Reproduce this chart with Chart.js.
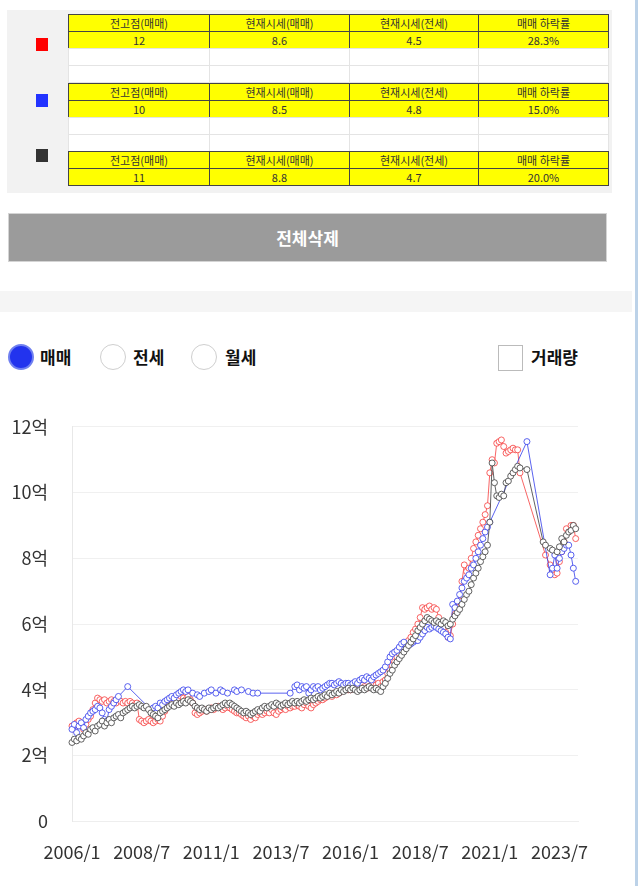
<!DOCTYPE html>
<html>
<head>
<meta charset="utf-8">
<script src="https://cdn.jsdelivr.net/npm/chart.js"></script>
<style>
  body { margin: 0; background: #fff; font-family: "Noto Sans CJK KR", sans-serif; width: 640px; height: 886px; overflow: hidden; position: relative; }
  .abs { position: absolute; }
  .panel { left: 7px; top: 10px; width: 605px; height: 183px; background: #f2f2f2; }
  .sq { width: 12px; height: 13px; left: 36px; }
  table { border-collapse: collapse; table-layout: fixed; position: absolute; left: 68px; width: 540px; }
  td { height: 16px; padding: 0; font-size: 11px; line-height: 14px; text-align: center; color: #333; }
  .yel td { background: #ffff00; border: 1px solid #444; }
  .wht td { background: #fff; border: 1px solid #e4e4e4; height: 16px; }
  .btn { left: 8px; top: 213px; width: 597px; height: 47px; background: #9b9b9b; border: 1px solid #d4d4d4; color: #fff; font-weight: bold; font-size: 17px; line-height: 47px; text-align: center; }
  .band { left: 0; top: 291px; width: 632px; height: 21px; background: #f5f5f5; }
  .radio { top: 344px; width: 24px; height: 24px; border-radius: 50%; border: 1px solid #cfcfcf; background: #fff; }
  .lbl { top: 343px; font-size: 17px; font-weight: bold; color: #111; line-height: 28px; }
  .edge { left: 635px; top: 0; width: 3px; height: 886px; background: #bcd2e8; }
  #wrap { left: 0; top: 392px; width: 600px; height: 491px; }
</style>
</head>
<body>
<div class="abs panel"></div>
<div class="abs sq" style="top:38px;background:#f00"></div>
<div class="abs sq" style="top:94px;background:#2233ff"></div>
<div class="abs sq" style="top:149px;background:#333"></div>
<div id="tables"></div>
<div class="abs btn">전체삭제</div>
<div class="abs band"></div>
<div class="abs radio" style="left:8px;background:#2233ee;border:2px solid #7080f0;width:22px;height:22px"></div>
<div class="abs lbl" style="left:40px">매매</div>
<div class="abs radio" style="left:100px"></div>
<div class="abs lbl" style="left:133px">전세</div>
<div class="abs radio" style="left:191px"></div>
<div class="abs lbl" style="left:225px">월세</div>
<div class="abs" style="left:498px;top:345px;width:23px;height:24px;border:1px solid #bbb;background:#fff"></div>
<div class="abs lbl" style="left:531px">거래량</div>
<div class="abs edge"></div>
<div class="abs" id="wrap"><canvas id="chart"></canvas></div>
<script>
const headers = ["전고점(매매)", "현재시세(매매)", "현재시세(전세)", "매매 하락률"];
const summaryRows = [
  ["12", "8.6", "4.5", "28.3%"],
  ["10", "8.5", "4.8", "15.0%"],
  ["11", "8.8", "4.7", "20.0%"]
];
const summaryTops = [14, 83, 151];
const colWidths = [141, 140, 129, 130];

// months from 2006/1 to 2024/3
const labels = [];
for (let y = 2006; y <= 2024; y++) {
  for (let m = 1; m <= 12; m++) {
    if (y === 2024 && m > 3) break;
    labels.push(y + "/" + m);
  }
}

const redData = [
  2.9, 2.8, 3.0, 3.05, 2.9, 2.8, 2.95, 3.1, 3.2, 3.4, 3.6, 3.75,
  3.7, 3.65, 3.7, 3.6, 3.65, 3.7, 3.65, 3.6, 3.7, 3.65, 3.6, 3.65,
  3.6, 3.65, 3.6, 3.55, 3.6, 3.1, 3.05, 3.0, 3.05, 3.1, 3.05, 3.0,
  3.05, 3.1, 3.05, 3.2, 3.35, 3.5, 3.55, 3.6, 3.65, 3.7, 3.75, 3.8,
  3.75, 3.7, 3.8, 3.7, 3.6, 3.3, 3.25, 3.3, 3.35, 3.4, 3.35, 3.4,
  3.45, 3.4, 3.45, 3.5, 3.45, 3.4, 3.45, 3.5, 3.45, 3.4, 3.35, 3.3,
  3.3, 3.25, 3.2, 3.15, 3.2, 3.1, 3.2, 3.15, 3.25, 3.3, 3.25, 3.3,
  3.35, 3.3, 3.4, 3.3, 3.25, 3.35, 3.4, 3.45, 3.4, 3.5, 3.45, 3.5,
  3.5, 3.55, 3.5, 3.45, 3.55, 3.6, 3.5, 3.45, 3.55, 3.6, 3.65, 3.7,
  3.7, 3.75, 3.8, 3.85, 3.8, 3.9, 3.85, 3.9, 3.95, 4.0, 4.05, 4.0,
  4.0, 4.05, 4.1, 4.05, 4.1, 4.15, 4.1, 4.05, 4.1, 4.15, 4.2, 4.15,
  4.2, 4.1, 4.25, 4.3, 4.5, 4.6, 4.75, 4.85, 5.0, 5.1, 5.2, 5.3,
  5.35, 5.5, 5.6, 5.75, 5.85, 6.0, 6.2, 6.5, 6.45, 6.5, 6.55, 6.45,
  6.5, 6.45, 6.2, 6.0, 5.9, 5.75, 5.6, 5.65, 6.0, 6.3, 6.5, 6.7,
  7.3, 7.8, 7.6, 7.7, 8.0, 8.3, 8.5, 8.7, 8.9, 9.1, 9.33, 9.6,
  10.6, 11.0, 10.9, 11.5, 11.55, 11.6, 11.4, 11.2, 11.25, 11.3, 11.35, 11.3,
  11.3, 10.6, null, null, null, null, null, null, null, null, null, null,
  8.1, null, 7.8, 7.6, 7.5, 7.55, 7.9, 8.2, 8.5, 8.9, 8.8, 9.0,
  9.0, 8.6, null
];

const blueData = [
  2.8, 2.95, 2.7, 2.9, 3.0, 2.85, 3.1, 3.2, 3.3, 3.35, 3.4, 3.5,
  3.45, 3.3, 3.1, 3.05, 3.4, 3.5, 3.6, 3.7, 3.8, null, null, null,
  4.1, null, null, null, null, null, null, null, null, null, 3.4, 3.45,
  3.5, 3.45, 3.6, 3.55, 3.65, 3.7, 3.75, 3.8, 3.75, 3.85, 3.9, 3.95,
  4.0, 3.95, 4.0, null, 3.9, null, 3.85, 3.8, null, 3.9, null, 3.95,
  4.0, null, 3.9, null, 4.0, 3.95, null, 3.9, null, null, 4.0, 3.95,
  null, 4.0, null, null, 3.95, null, 3.9, null, 3.9, null, null, null,
  null, null, null, null, null, null, null, null, null, null, 3.9, null,
  4.1, 4.15, 4.0, 4.1, 4.05, 4.1, 3.9, 4.0, 4.1, 4.05, 4.1, 4.0,
  4.05, 4.1, 4.15, 4.2, 4.2, 4.15, 4.2, 4.25, 4.2, 4.15, 4.2, 4.2,
  4.15, 4.2, 4.25, 4.2, 4.3, 4.35, 4.3, 4.4, 4.35, 4.3, 4.4, 4.45,
  4.5, 4.55, 4.6, 4.7, 4.85, 5.0, 5.1, 5.15, 5.2, 5.3, 5.4, 5.45,
  5.3, 5.35, 5.4, 5.45, 5.5, 5.5, 5.6, 5.7, 5.8, 5.9, 5.85, 5.9,
  5.95, 5.9, 5.85, 5.8, 5.75, 5.7, 5.6, 5.55, 6.6, 6.5, 6.7, 6.9,
  7.1, 7.3, 7.4, 7.5, 7.7, 7.8, 8.0, 8.2, 8.4, 8.6, 8.8, 8.95,
  9.1, null, null, null, null, null, null, null, null, null, null, null,
  null, null, null, null, 11.55, null, null, null, null, null, null, null,
  null, null, 7.5, 7.7, 8.1, 7.7, 8.0, 8.2, 8.3, 8.4, 8.4, 8.1,
  7.7, 7.3, null
];

const grayData = [
  2.4, 2.5, 2.45, 2.55, 2.5, 2.6, 2.7, 2.65, 2.8, 2.85, 2.75, 2.9,
  2.95, 3.05, 2.9, 3.0, 3.1, 3.0, 3.15, 3.2, 3.25, 3.15, 3.3, 3.35,
  3.4, 3.45, 3.5, 3.45, 3.5, 3.55, 3.5, 3.45, 3.5, 3.4, 3.3, 3.25,
  3.2, 3.15, 3.3, 3.35, 3.4, 3.45, 3.5, 3.55, 3.5, 3.6, 3.55, 3.6,
  3.65, 3.6, 3.7, 3.65, 3.6, 3.5, 3.45, 3.4, 3.45, 3.4, 3.35, 3.45,
  3.4, 3.45, 3.5, 3.45, 3.5, 3.55, 3.6, 3.55, 3.6, 3.55, 3.5, 3.45,
  3.4, 3.35, 3.3, 3.35, 3.3, 3.25, 3.3, 3.35, 3.4, 3.35, 3.45, 3.5,
  3.45, 3.5, 3.55, 3.5, 3.6, 3.55, 3.5, 3.55, 3.6, 3.55, 3.6, 3.65,
  3.6, 3.65, 3.6, 3.65, 3.7, 3.65, 3.7, 3.75, 3.7, 3.75, 3.8, 3.75,
  3.8, 3.85, 3.8, 3.9, 3.85, 3.9, 3.95, 3.9, 4.0, 3.95, 4.0, 4.05,
  4.0, 4.05, 4.0, 3.95, 4.0, 4.05, 4.0, 4.05, 4.1, 4.05, 4.0, 4.05,
  4.0, 3.95, 4.1, 4.2, 4.35, 4.5, 4.6, 4.75, 4.85, 4.95, 5.05, 5.15,
  5.25, 5.35, 5.45, 5.55, 5.65, 5.8, 5.9, 6.0, 6.1, 6.2, 6.15, 6.1,
  6.05, 6.1, 6.05, 6.0, 6.1, 6.05, 5.95, 6.0, 6.15, 6.25, 6.35, 6.45,
  6.6, 6.75, 6.9, 7.0, 7.2, 7.4, 7.55, 7.7, 7.9, 8.05, 8.2, 8.4,
  9.1, 10.9, 10.3, 9.9, 9.85, 9.95, 9.9, 10.3, 10.35, 10.5, 10.6, 10.7,
  10.8, 10.75, null, null, 10.7, null, null, null, null, null, null, 8.5,
  8.4, null, 8.3, 8.25, null, 8.2, 8.35, 8.6, 8.5, 8.7, 8.8, 8.85,
  9.0, 8.9, null
];

// summary tables
const tablesDiv = document.getElementById("tables");
const cols = "<colgroup>" + colWidths.map(w => '<col style="width:' + w + 'px">').join("") + "</colgroup>";
let html = "";
summaryRows.forEach((row, i) => {
  const top = summaryTops[i];
  html += '<table class="yel" style="top:' + top + 'px">' + cols + "<tr>" +
    headers.map(h => "<td>" + h + "</td>").join("") + "</tr><tr>" +
    row.map(v => "<td>" + v + "</td>").join("") + "</tr></table>";
  if (i < summaryRows.length - 1) {
    html += '<table class="wht" style="top:' + (top + 34) + 'px">' + cols + "<tr>" +
      headers.map(() => "<td></td>").join("") + "</tr><tr>" +
      headers.map(() => "<td></td>").join("") + "</tr></table>";
  }
});
tablesDiv.innerHTML = html;

function dataset(data, color) {
  return {
    data,
    borderColor: color,
    borderWidth: 1,
    pointRadius: 3,
    pointBorderWidth: 1,
    pointBackgroundColor: "#fff",
    pointBorderColor: color,
    spanGaps: true,
    tension: 0
  };
}

new Chart(document.getElementById("chart"), {
  type: "line",
  data: {
    labels,
    datasets: [
      dataset(grayData, "rgba(70,70,70,0.85)"),
      dataset(blueData, "rgba(50,60,235,0.8)"),
      dataset(redData, "rgba(245,50,50,0.75)")
    ]
  },
  options: {
    responsive: true,
    maintainAspectRatio: false,
    animation: false,
    layout: { padding: { top: 15, right: 22, bottom: 0, left: 0 } },
    plugins: { legend: { display: false }, tooltip: { enabled: false } },
    scales: {
      x: {
        grid: { display: false, drawTicks: false },
        border: { color: "#eeeeee" },
        ticks: {
          autoSkip: false,
          maxRotation: 0,
          padding: 20,
          color: "#333",
          font: { size: 18, family: "'Noto Sans CJK KR', sans-serif" },
          callback: (v, i) => (i % 30 === 0 ? labels[i] : "")
        }
      },
      y: {
        min: 0,
        max: 12,
        afterFit: (scale) => { scale.width = 72; },
        grid: { color: "#f0f0f0", drawTicks: false },
        border: { color: "#e8e8e8" },
        ticks: {
          stepSize: 2,
          padding: 24,
          color: "#333",
          font: { size: 18, family: "'Noto Sans CJK KR', sans-serif" },
          callback: (v) => (v === 0 ? "0" : v + "억")
        }
      }
    }
  }
});
</script>
</body>
</html>
